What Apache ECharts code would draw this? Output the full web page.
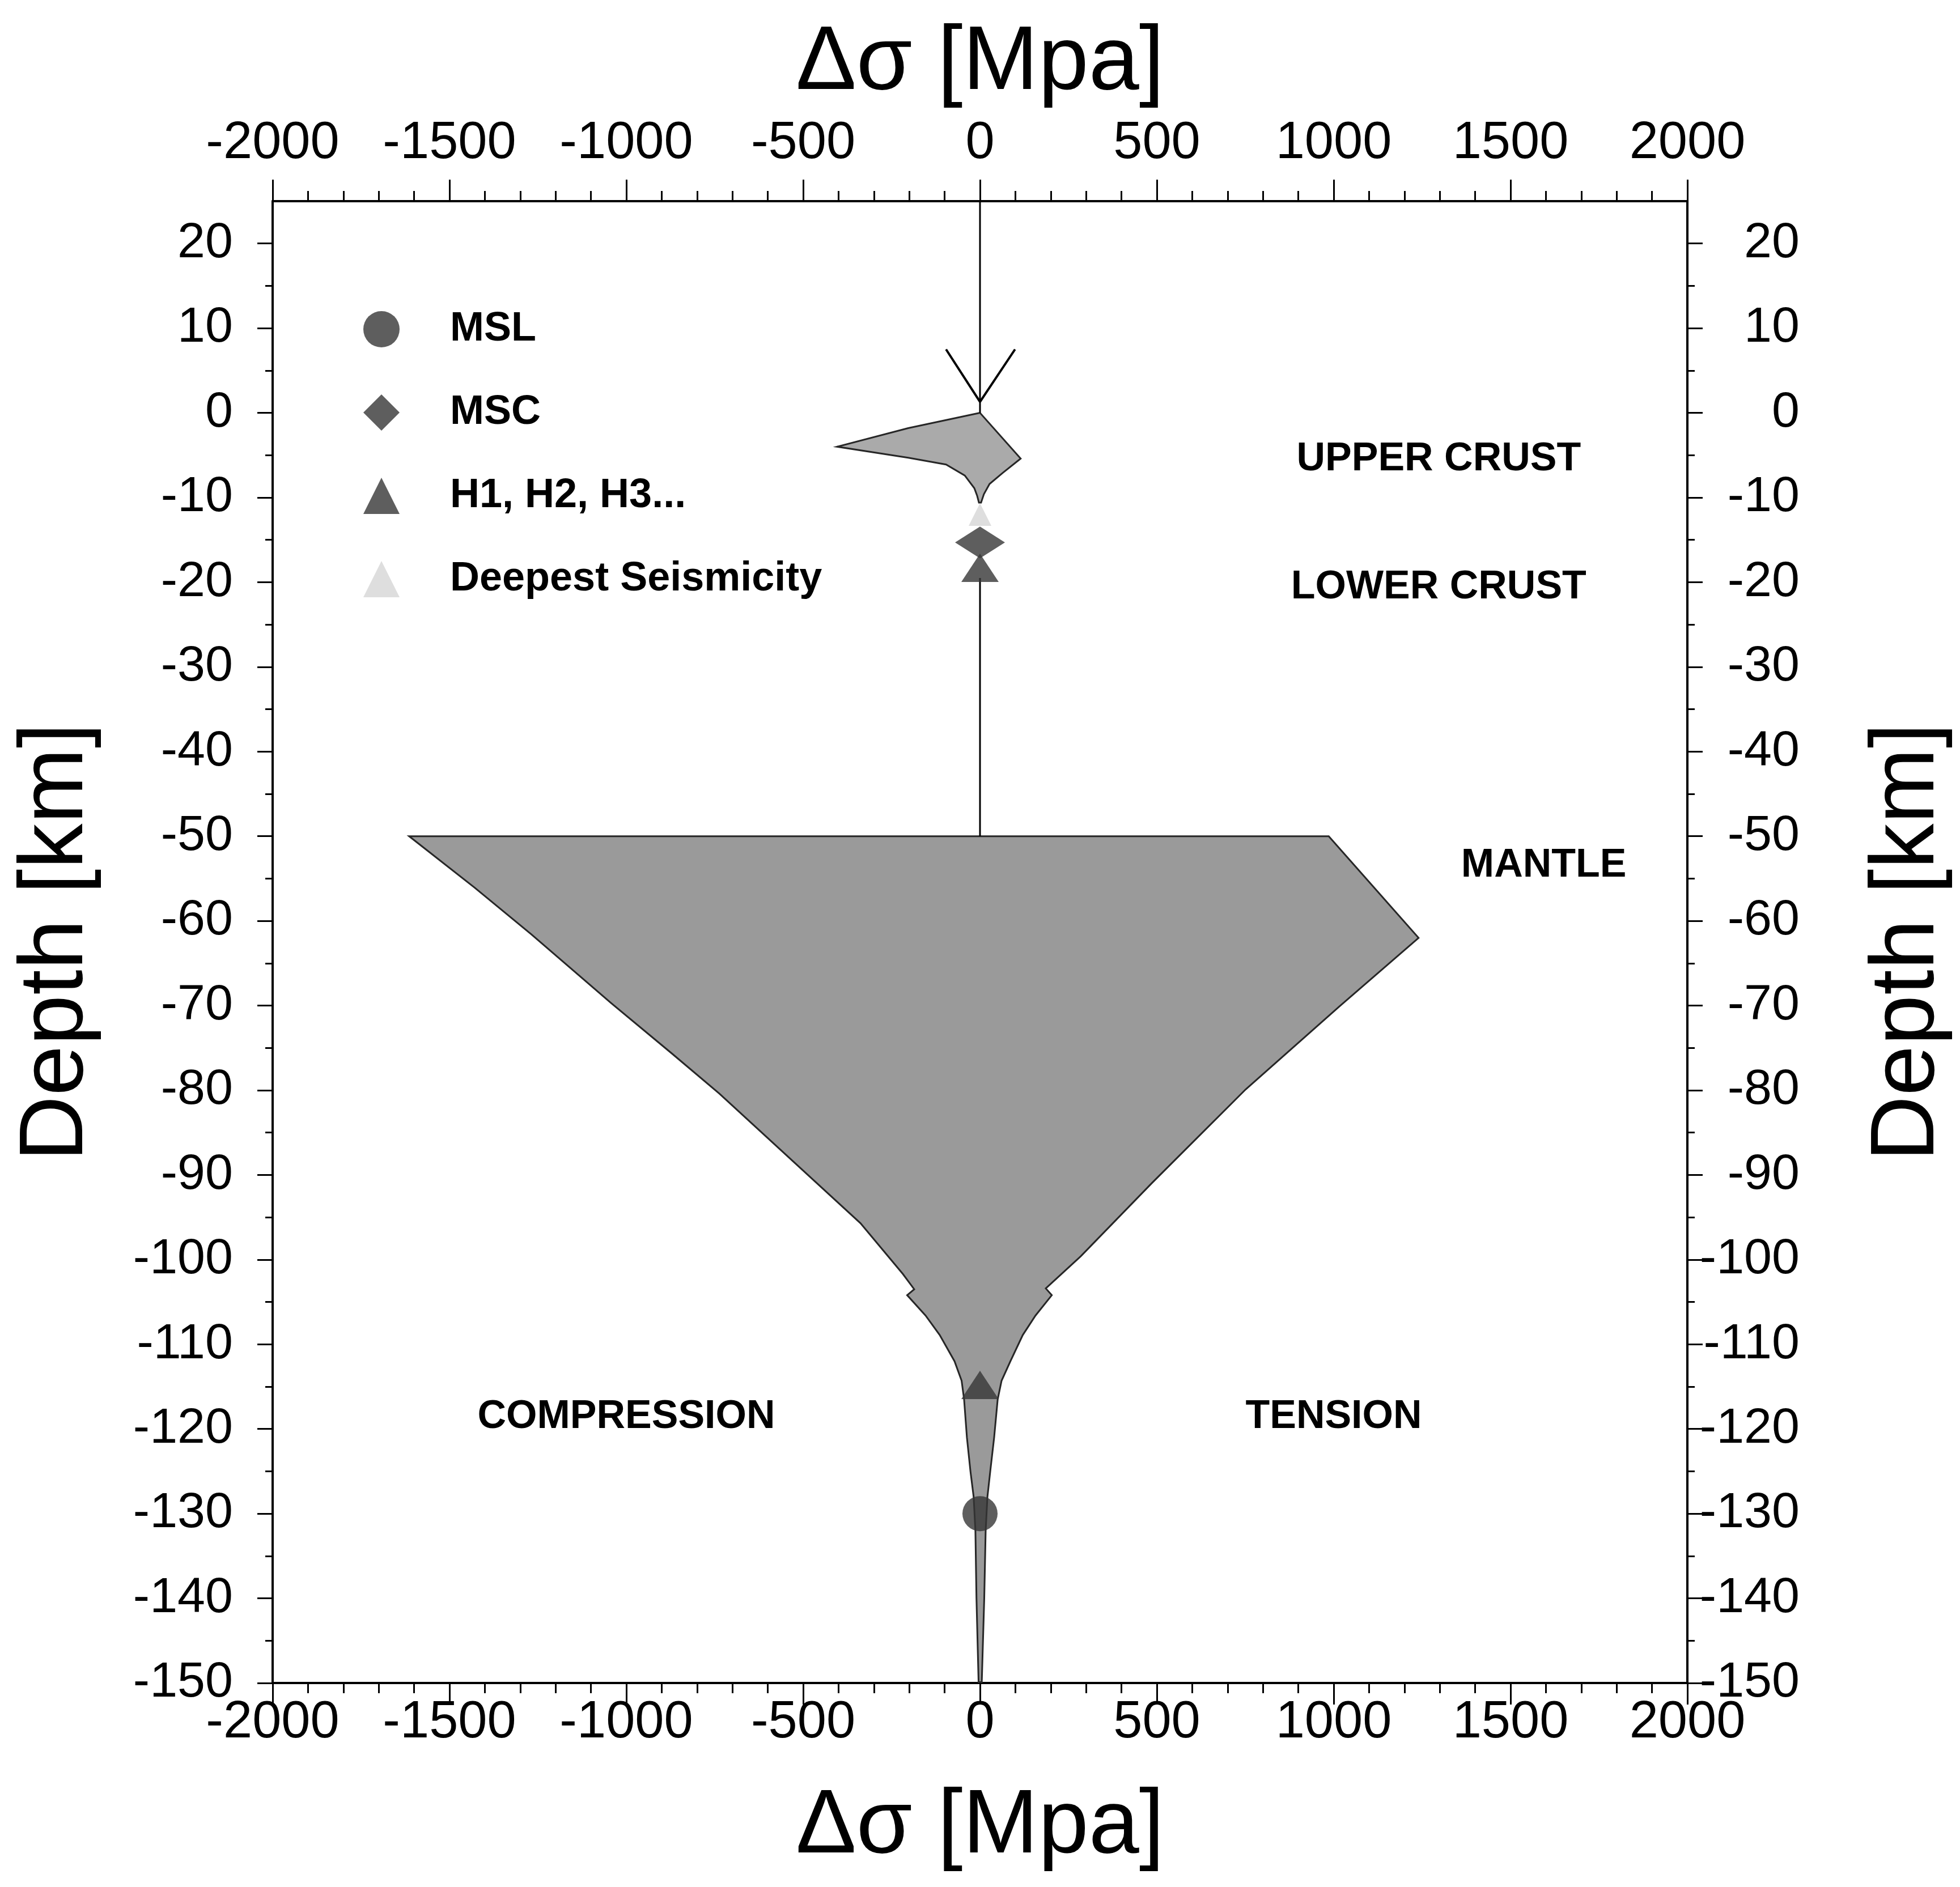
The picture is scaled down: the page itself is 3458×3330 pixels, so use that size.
<!DOCTYPE html>
<html>
<head>
<meta charset="utf-8">
<title>Strength envelope</title>
<script src="https://cdn.jsdelivr.net/npm/echarts@6/dist/echarts.min.js"></script>
<style>
  html, body { margin: 0; padding: 0; background: #fff; }
  #main { width: 3458px; height: 3330px; }
</style>
</head>
<body>
<div id="main"></div>
<script>
// depth ticks (km)
var depthMajor = [-150, -140, -130, -120, -110, -100, -90, -80, -70, -60, -50, -40, -30, -20, -10, 0, 10, 20];
var depthMinor = [-145, -135, -125, -115, -105, -95, -85, -75, -65, -55, -45, -35, -25, -15, -5, 5, 15];

// upper crust envelope: compression side (left) and tension side (right)
var crustDepthL = [0, -1.8, -4.0, -5.3, -6.1, -7.4, -8.9, -9.8, -10.6];
var crustCompL  = [0, -203, -404, -203, -96, -43, -16, -8, -3];
var crustDepthR = [0, -5.4, -7.1, -8.4, -9.6, -10.6];
var crustTensR  = [0, 115, 64, 27, 11, 3];

// mantle envelope
var mantleDepthL = [-50, -56.1, -61.6, -69.7, -75.7, -80.4, -85.5, -90.6, -95.7, -101.7, -103.5, -104.2, -106.6, -108.9, -112.0, -114.3, -116.5, -121.0, -125.0, -128.0, -132, -140, -149.9];
var mantleCompL  = [-1614, -1428, -1268, -1043, -870, -737, -604, -471, -338, -218, -186, -206, -154, -114, -72, -52, -45, -37, -27, -18, -13, -10, -4];
var mantleDepthR = [-50, -62.0, -70.1, -79.9, -91.0, -99.6, -103.4, -104.2, -106.6, -108.9, -112.0, -114.3, -116.5, -121.0, -125.0, -128.0, -132, -140, -149.9];
var mantleTensR  = [986, 1240, 1016, 751, 485, 285, 186, 203, 157, 121, 86, 61, 50, 40, 29, 21, 16, 12, 5];

// vertical reference line and surface arrow
var stemTop = [[0, 25], [0, 0]];
var stemMid = [[0, -19.5], [0, -50]];
var arrowVee = [[-96, 7.5], [0, 1.3], [99, 7.5]];

// depth markers
var mslPts = [[0, -130]];
var mscPts = [[0, -15.3]];
var hPts = [[0, -18.3], [0, -114.8]];
var seismPts = [[0, -12]];

// region annotations
var regionNames = ['UPPER CRUST', 'LOWER CRUST', 'MANTLE', 'COMPRESSION', 'TENSION'];
var regionStress = [1297, 1297, 1594, -1000, 1000];
var regionDepth = [-5.5, -20.6, -53.5, -118.6, -118.6];

function envelope(xl, yl, xr, yr) {
  var pts = [];
  for (var i = 0; i < yl.length; i++) pts.push([xl[i], yl[i]]);
  for (var j = yr.length - 1; j >= 0; j--) pts.push([xr[j], yr[j]]);
  return pts;
}
var crustPoly = envelope(crustCompL, crustDepthL, crustTensR, crustDepthR);
var mantlePoly = envelope(mantleCompL, mantleDepthL, mantleTensR, mantleDepthR);

function polyRender(pts, fill) {
  return function (params, api) {
    if (params.dataIndex !== 0) return null;
    return {
      type: 'polygon',
      shape: { points: pts.map(function (p) { return api.coord(p); }) },
      style: { fill: fill, stroke: '#262626', lineWidth: 3 }
    };
  };
}

var FONT = '"Liberation Sans", Arial, Helvetica, sans-serif';
var ink = '#000';

function xAxisDef(pos, gap, margin) {
  return {
    type: 'value', position: pos, min: -2000, max: 2000, interval: 500,
    name: 'Δσ [Mpa]', nameLocation: 'middle', nameGap: gap,
    nameTextStyle: { fontFamily: FONT, fontSize: 160, color: ink },
    axisLine: { show: true, onZero: false, lineStyle: { color: ink, width: 4 } },
    axisTick: { show: true, length: 38, lineStyle: { color: ink, width: 3 } },
    minorTick: { show: true, splitNumber: 5, length: 18, lineStyle: { color: ink, width: 3 } },
    axisLabel: {
      fontFamily: FONT, fontSize: 92, color: ink, margin: margin,
      formatter: function (v) { return String(v); }
    },
    splitLine: { show: false }
  };
}

function yAxisDef(pos, labelOpts, gap) {
  return {
    type: 'value', position: pos, min: -150, max: 25,
    name: 'Depth [km]', nameLocation: 'middle', nameGap: gap, nameRotate: 90,
    nameTextStyle: { fontFamily: FONT, fontSize: 160, color: ink },
    axisLine: { show: true, onZero: false, lineStyle: { color: ink, width: 4 } },
    axisTick: { show: true, customValues: depthMajor, length: 27, lineStyle: { color: ink, width: 3 } },
    axisLabel: Object.assign({ customValues: depthMajor, fontFamily: FONT, fontSize: 88, color: ink }, labelOpts),
    splitLine: { show: false }
  };
}

function yMinorDef(pos) {
  return {
    type: 'value', position: pos, min: -150, max: 25,
    axisLine: { show: false, onZero: false },
    axisTick: { show: true, customValues: depthMinor, length: 13, lineStyle: { color: ink, width: 3 } },
    axisLabel: { show: false },
    splitLine: { show: false }
  };
}

var myChart = echarts.init(document.getElementById('main'));

var option = {
  backgroundColor: '#fff',
  animation: false,
  grid: { left: 481, right: 481, top: 355, bottom: 360 },
  legend: {
    orient: 'vertical', left: 636, top: 540,
    itemWidth: 64, itemHeight: 64, itemGap: 75,
    textStyle: { fontFamily: FONT, fontSize: 72, fontWeight: 'bold', color: ink, padding: [0, 0, 0, 84] },
    data: ['MSL', 'MSC', 'H1, H2, H3...', 'Deepest Seismicity']
  },
  xAxis: [xAxisDef('bottom', 175, 25), xAxisDef('top', 162, 55)],
  yAxis: [
    yAxisDef('left', { margin: 70 }, 300),
    yAxisDef('right', { margin: 198, align: 'right' }, 310),
    yMinorDef('left'),
    yMinorDef('right')
  ],
  series: [
    {
      type: 'custom', name: 'mantle', coordinateSystem: 'cartesian2d',
      renderItem: polyRender(mantlePoly, '#9a9a9a'), data: mantlePoly, z: 1
    },
    {
      type: 'custom', name: 'crust', coordinateSystem: 'cartesian2d',
      renderItem: polyRender(crustPoly, '#aaaaaa'), data: crustPoly, z: 1
    },
    { type: 'line', data: stemTop, symbol: 'none', lineStyle: { color: ink, width: 3 }, z: 2 },
    { type: 'line', data: stemMid, symbol: 'none', lineStyle: { color: ink, width: 3 }, z: 2 },
    { type: 'line', data: arrowVee, symbol: 'none', lineStyle: { color: ink, width: 4 }, z: 2 },
    {
      type: 'scatter', name: 'Deepest Seismicity', data: seismPts, symbol: 'triangle',
      symbolSize: 40, itemStyle: { color: '#d6d6d6' }, z: 3
    },
    {
      type: 'scatter', name: 'MSC', data: mscPts, symbol: 'diamond',
      symbolSize: [88, 56], itemStyle: { color: '#363636' }, z: 4
    },
    {
      type: 'scatter', name: 'H1, H2, H3...', data: hPts, symbol: 'triangle',
      symbolSize: [66, 50], itemStyle: { color: '#363636' }, z: 5
    },
    {
      type: 'scatter', name: 'MSL', data: mslPts, symbol: 'circle',
      symbolSize: 62, itemStyle: { color: '#363636' }, z: 5
    },
    {
      type: 'custom', name: 'regions', coordinateSystem: 'cartesian2d', z: 6,
      data: regionNames.map(function (n, i) { return [regionStress[i], regionDepth[i]]; }),
      renderItem: function (params, api) {
        var p = api.coord([api.value(0), api.value(1)]);
        return {
          type: 'text', x: p[0], y: p[1],
          style: {
            text: regionNames[params.dataIndex], fill: ink,
            font: 'bold 70px ' + FONT, align: 'center', verticalAlign: 'middle'
          }
        };
      }
    }
  ]
};

myChart.setOption(option);
</script>
</body>
</html>
